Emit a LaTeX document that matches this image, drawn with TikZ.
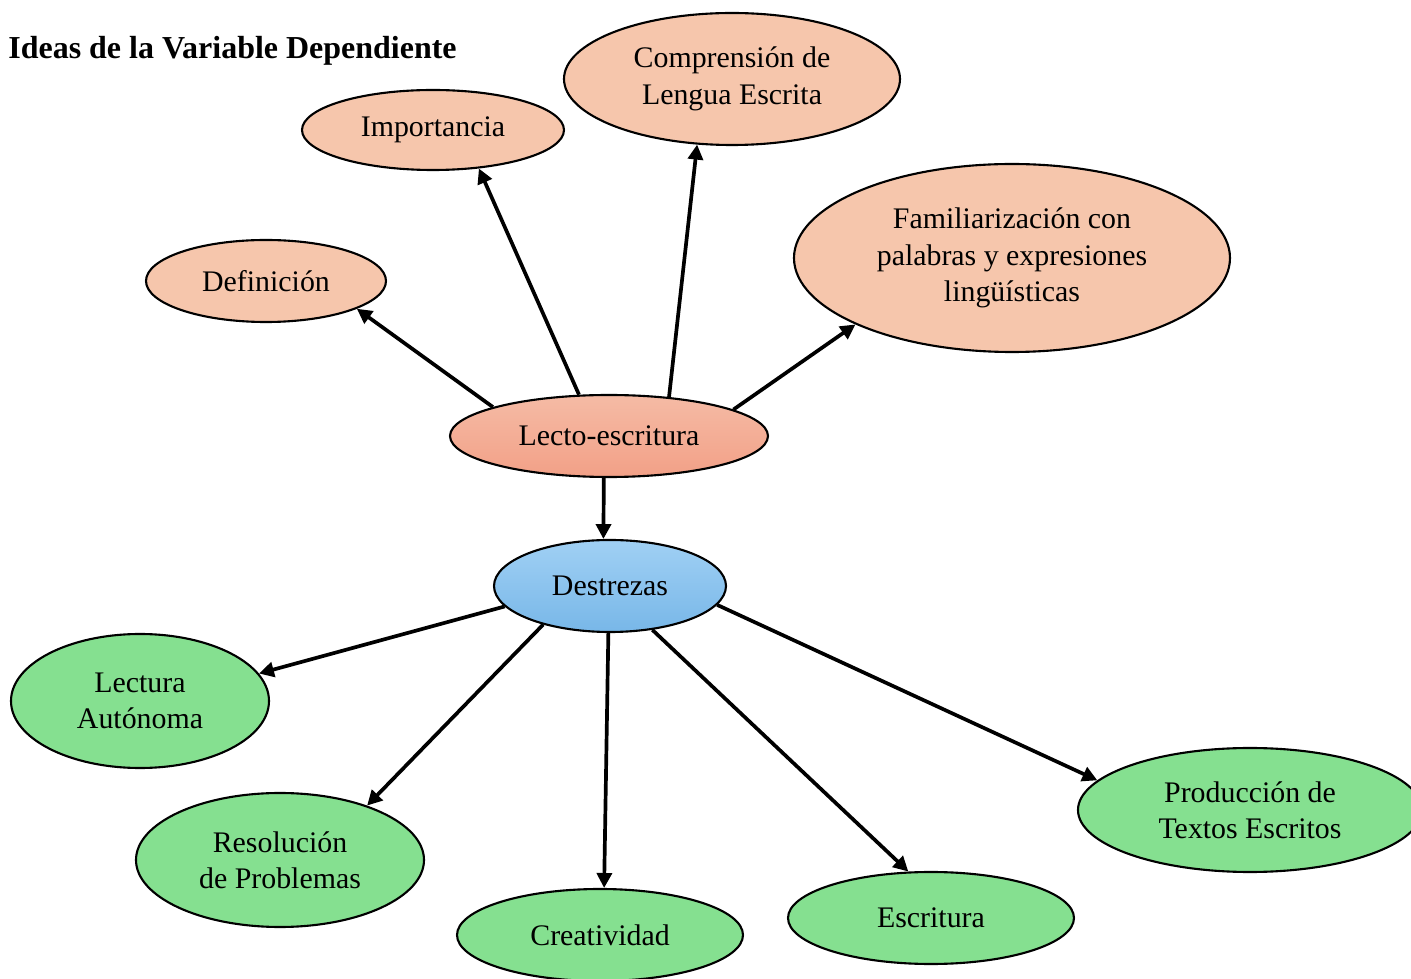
\documentclass[tikz,border=0pt]{standalone}
\usepackage{fontspec}
\setmainfont{Liberation Serif}
\usetikzlibrary{shapes.geometric,arrows.meta}
\newdimen\pxu \pxu=0.02cm
\definecolor{peach}{RGB}{246,198,172}
\definecolor{leaf}{RGB}{133,224,144}
\definecolor{lectotop}{RGB}{245,187,165}
\definecolor{lectobot}{RGB}{242,160,135}
\definecolor{destop}{RGB}{160,208,244}
\definecolor{desbot}{RGB}{120,183,232}
\tikzset{
  bubble/.style={ellipse, draw=black, line width=1.2pt, inner sep=0pt, align=center,
    font=\fontsize{17}{20.7}\selectfont},
  idea/.style={bubble, fill=peach},
  skill/.style={bubble, fill=leaf},
  arr/.style={line width=2.1pt, -{Triangle[length=8.5pt,width=8.5pt]}},
}
\begin{document}
\begin{tikzpicture}[x=0.02cm,y=-0.02cm]
\useasboundingbox (0,0) rectangle (1411,979);
\node[anchor=west, inner sep=0pt, font=\fontsize{18.2}{20}\selectfont\bfseries] (title) at (8,51) {Ideas de la Variable Dependiente};

\node[idea, minimum width=240\pxu, minimum height=82\pxu] (def) at (266,281) {Definición};
\node[idea, minimum width=262\pxu, minimum height=80\pxu] (imp) at (433,130) {Importancia};
\node[idea, minimum width=336\pxu, minimum height=132\pxu] (comp) at (732,79) {Comprensión de\\Lengua Escrita};
\node[idea, minimum width=436\pxu, minimum height=188\pxu] (fam) at (1012,258) {Familiarización con\\palabras y expresiones\\lingüísticas};

\node[bubble, top color=lectotop, bottom color=lectobot, minimum width=318\pxu, minimum height=82\pxu] (lecto) at (609,436) {Lecto-escritura};
\node[bubble, top color=destop, bottom color=desbot, minimum width=232\pxu, minimum height=92\pxu] (des) at (610,586) {Destrezas};

\node[skill, minimum width=258\pxu, minimum height=134\pxu] (lect) at (140,701) {Lectura\\Autónoma};
\node[skill, minimum width=288\pxu, minimum height=134\pxu] (res) at (280,860) {Resolución\\de Problemas};
\node[skill, minimum width=286\pxu, minimum height=92\pxu] (crea) at (600,935) {Creatividad};
\node[skill, minimum width=286\pxu, minimum height=92\pxu] (escr) at (931,918) {Escritura};
\node[skill, minimum width=344\pxu, minimum height=124\pxu] (prod) at (1250,810) {Producción de\\Textos Escritos};

\draw[arr] (lecto.166) -- (def.-17);
\draw[arr] (lecto.126) -- (imp.-40);
\draw[arr] (lecto.33) -- (comp.-118);
\draw[arr] (lecto.12) -- (fam.203);
\draw[arr] (lecto.-97) -- (des.98);

\draw[arr] (des.191) -- (lect.13);
\draw[arr] (des.210) -- (res.32);
\draw[arr] (des.-92) -- (crea.85);
\draw[arr] (des.-46) -- (escr.116);
\draw[arr] (des.-10) -- (prod.169);
\end{tikzpicture}
\end{document}
